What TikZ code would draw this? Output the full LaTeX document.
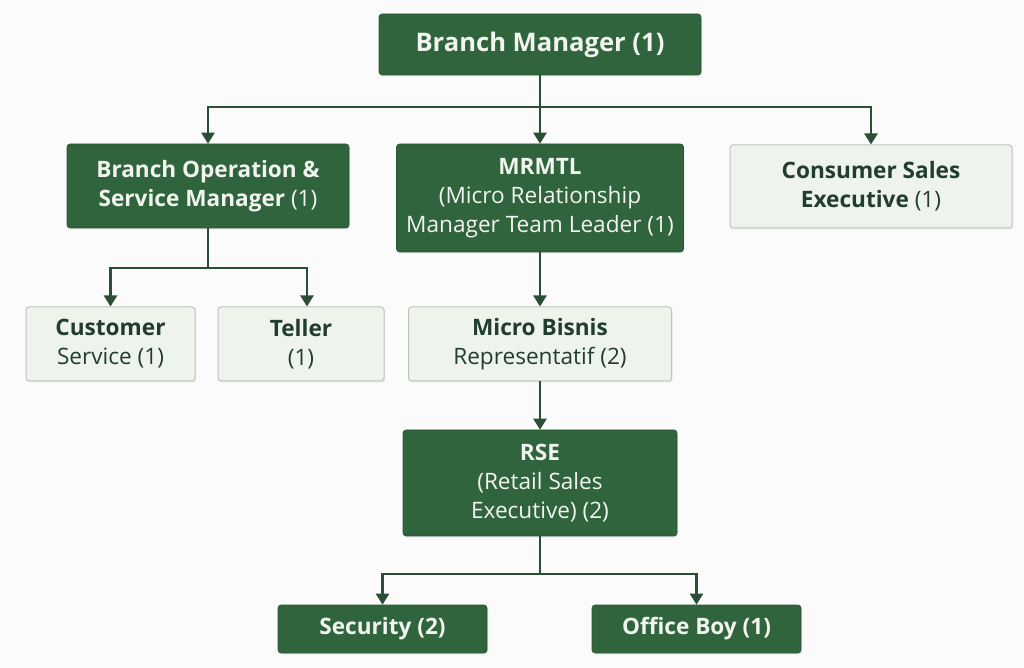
\documentclass[tikz,border=0pt]{standalone}
\usepackage{fontspec}
\setmainfont{Open Sans}
\usetikzlibrary{arrows.meta, positioning, shadows}
\definecolor{boxdark}{HTML}{30643C}
\definecolor{boxlight}{HTML}{EEF3EC}
\definecolor{boxborder}{HTML}{B9C7B9}
\definecolor{linegreen}{HTML}{2A4E36}
\definecolor{textdark}{HTML}{213D2B}
\definecolor{textlight}{HTML}{F2F5EF}
\definecolor{pagebg}{HTML}{FAFBFA}
\def\connwidth{1.2pt}
\def\cornerrad{1.5pt}
\def\boxfont{\fontsize{11.3}{14.5}\selectfont}
\tikzset{
	% boxes with dark fill
	darkbox/.style={
		shape=rectangle,
		fill=boxdark,
		draw=boxdark!85!black,
		line width=0.3pt,
		rounded corners=\cornerrad,
		text=textlight,
		font=\boxfont,
		align=center,
		inner sep=0pt,
		drop shadow={opacity=0.12, shadow xshift=0.6pt, shadow yshift=-0.8pt},
	},
	% boxes with light fill
	lightbox/.style={
		darkbox,
		fill=boxlight,
		draw=boxborder,
		line width=0.5pt,
		text=textdark,
	},
	% connections
	connection/.style={
		draw=linegreen,
		line width=\connwidth,
		-{Triangle[length=5.5pt, width=6.5pt]},
	},
	bus/.style={
		draw=linegreen,
		line width=\connwidth,
	}
}
\begin{document}
\begin{tikzpicture}[x=0.5pt, y=-0.5pt]
		\fill[pagebg] (0,0) rectangle (1024,668);
		\useasboundingbox (0,0) rectangle (1024,668);
		% Top level
		\node[
			darkbox,
			minimum width=161pt,
			minimum height=30.5pt,
			font=\fontsize{12.8}{15}\selectfont\bfseries,
		] (branch_manager) at (540,44.5) {Branch Manager (1)};
		
		% Second level
		\node[
			darkbox,
			minimum width=141pt,
			minimum height=42pt,
		] (branch_operation) at (208,186)
		  {\textbf{Branch Operation \&}\\\textbf{Service Manager} (1)};
		%
		\node[
			darkbox,
			minimum width=143.5pt,
			minimum height=54pt,
		] (mrmtl) at (540,198)
		  {\textbf{MRMTL}\\(Micro Relationship\\Manager Team Leader (1)};
		%
		\node[
			lightbox,
			minimum width=141pt,
			minimum height=41.5pt,
		] (consumer_sales) at (871,186.5)
		  {\textbf{Consumer Sales}\\\textbf{Executive} (1)};
		
		% Third level
		\node[
			lightbox,
			minimum width=84.5pt,
			minimum height=37pt,
		] (customer_service) at (110.5,344)
		  {\textbf{Customer}\\Service (1)};
		%
		\node[
			lightbox,
			minimum width=83pt,
			minimum height=37pt,
		] (teller) at (301,344) {\textbf{Teller}\\(1)};
		%
		\node[
			lightbox,
			minimum width=131.5pt,
			minimum height=37pt,
		] (micro_bisnis) at (540,344)
		  {\textbf{Micro Bisnis}\\Representatif (2)};
		
		% Fourth level
		\node[
			darkbox,
			minimum width=137pt,
			minimum height=53pt,
		] (rse) at (540,483)
		  {\textbf{RSE}\\(Retail Sales\\Executive) (2)};
		
		% Bottom level
		\node[
			darkbox,
			minimum width=104.5pt,
			minimum height=24pt,
			font=\boxfont\bfseries,
		] (security) at (382.5,629) {Security (2)};
		%
		\node[
			darkbox,
			minimum width=104.5pt,
			minimum height=24pt,
			font=\boxfont\bfseries,
		] (office_boy) at (696.5,629) {Office Boy (1)};
		
		% Connections
		%% Branch Manager -> second level
		\coordinate (bus_top) at (branch_manager.south |- 0,107);
		\draw[bus] (branch_manager.south) -- (bus_top);
		\draw[connection] (bus_top) -| (branch_operation.north);
		\draw[connection] (bus_top) -- (mrmtl.north);
		\draw[connection] (bus_top) -| (consumer_sales.north);
		%% Branch Operation -> front office
		\coordinate (bus_ops) at (branch_operation.south |- 0,268);
		\draw[bus] (branch_operation.south) -- (bus_ops);
		\draw[connection] (bus_ops) -| (customer_service.north);
		\draw[connection] (bus_ops) -| ([xshift=3pt]teller.north);
		%% MRMTL -> Micro Bisnis -> RSE
		\draw[connection] (mrmtl.south) -- (micro_bisnis.north);
		\draw[connection] (micro_bisnis.south) -- (rse.north);
		%% RSE -> support staff
		\coordinate (bus_rse) at (rse.south |- 0,574);
		\draw[bus] (rse.south) -- (bus_rse);
		\draw[connection] (bus_rse) -| (security.north);
		\draw[connection] (bus_rse) -| (office_boy.north);
	\end{tikzpicture}
\end{document}
